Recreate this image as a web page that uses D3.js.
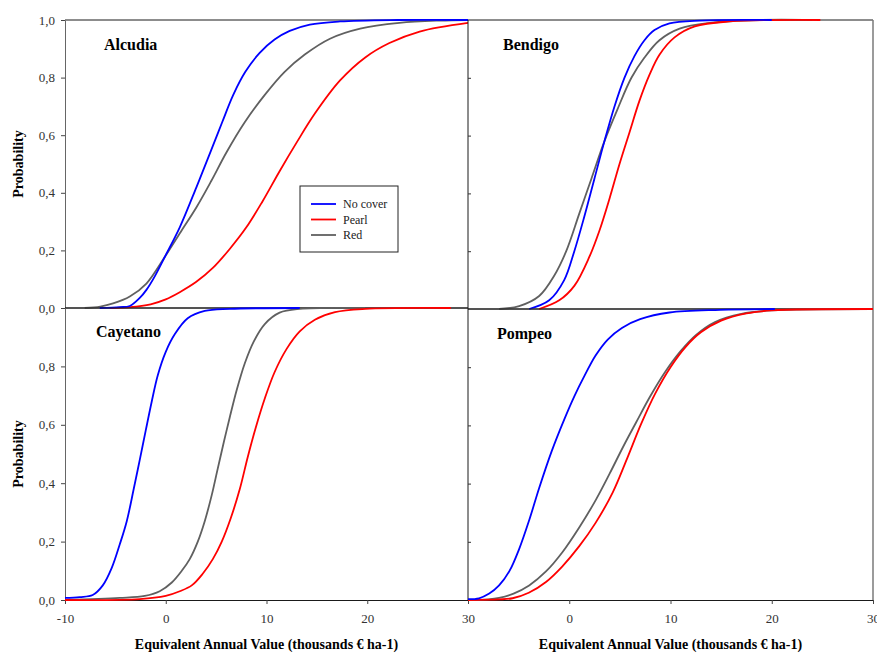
<!DOCTYPE html>
<html>
<head>
    <meta charset="UTF-8">
    <title>Cumulative probability of Equivalent Annual Value</title>
    <script src="https://d3js.org/d3.v7.min.js"></script>
    <style type="text/css">
        body { margin: 0; background: white; }
        text { font-family: "Liberation Serif", "DejaVu Serif", serif; }
    </style>
</head>
<body>
    <svg id="chart"></svg>

    <script>
        const width = 877;
        const height = 653;

        const xTicks = [-10, 0, 10, 20, 30];
        const yTicks = [0, 0.2, 0.4, 0.6, 0.8, 1.0];
        const seriesNames = ["No cover", "Pearl", "Red"];
        const seriesColors = ["#0000ff", "#ff0000", "#606060"];
        const panelNames = ["Alcudia", "Bendigo", "Cayetano", "Pompeo"];

        // [EAV thousands, probability]
        const alcudiaNoCover = [[-6.55,0],[-4.57,0.003],[-3.57,0.007],[-2.58,0.035],[-1.92,0.063],[-1.09,0.11],[-0.1,0.177],[1.39,0.28],[3.05,0.42],[4.53,0.55],[5.6,0.645],[6.7,0.74],[7.9,0.82],[9.3,0.885],[10.8,0.932],[12.3,0.962],[14.3,0.984],[17.3,0.995],[23,1],[30,1]];
        const alcudiaPearl = [[-5.56,0],[-3.57,0.003],[-1.5,0.013],[0,0.03],[1.39,0.055],[3,0.09],[4.7,0.14],[6.35,0.205],[8,0.28],[9.6,0.37],[11.3,0.475],[13,0.575],[14.8,0.675],[17.3,0.79],[19.8,0.87],[22.2,0.92],[25.2,0.96],[30,0.99]];
        const alcudiaRed = [[-8.04,0],[-6.5,0.005],[-5.23,0.016],[-3.57,0.04],[-1.92,0.085],[-0.1,0.177],[1.5,0.265],[3.05,0.35],[4.5,0.44],[6.02,0.54],[7.84,0.645],[9.83,0.74],[11.8,0.82],[13.8,0.88],[16.3,0.935],[19.3,0.97],[23.2,0.99],[27.2,0.998],[30,1]];

        const bendigoNoCover = [[-3.96,0],[-1.98,0.03],[-0.5,0.1],[0.5,0.2],[1.49,0.32],[2.48,0.45],[3.47,0.58],[4.46,0.7],[5.45,0.8],[6.44,0.875],[7.43,0.93],[8.42,0.965],[9.9,0.988],[12.9,0.998],[20,1]];
        const bendigoPearl = [[-2.97,0],[-0.99,0.03],[0.5,0.08],[1.98,0.18],[2.97,0.27],[3.96,0.38],[4.95,0.5],[5.94,0.61],[6.93,0.72],[7.92,0.81],[8.91,0.88],[10.4,0.94],[12.4,0.978],[15.8,0.995],[24.8,1]];
        const bendigoRed = [[-6.93,0],[-4.95,0.01],[-2.97,0.045],[-1.49,0.115],[-0.3,0.2],[0.99,0.33],[2.18,0.45],[3.47,0.58],[4.75,0.69],[6.14,0.8],[7.43,0.87],[8.91,0.93],[10.9,0.97],[13.9,0.99],[18.8,1],[24,1]];

        const cayetanoNoCover = [[-10,0.007],[-8.54,0.01],[-7.25,0.017],[-6.25,0.05],[-5.36,0.11],[-4.57,0.19],[-3.87,0.27],[-3.18,0.38],[-2.58,0.48],[-1.99,0.58],[-1.39,0.68],[-0.79,0.77],[0,0.85],[0.89,0.91],[2.18,0.965],[3.87,0.99],[6.35,0.997],[13.3,1]];
        const cayetanoPearl = [[-10,0],[-2.58,0.003],[0,0.014],[1.39,0.03],[2.58,0.05],[3.67,0.09],[4.67,0.14],[5.56,0.2],[6.45,0.28],[7.35,0.38],[8.14,0.49],[8.93,0.59],[9.83,0.69],[10.8,0.78],[12,0.86],[13.3,0.92],[14.8,0.96],[16.8,0.986],[19.8,0.997],[28.3,1]];
        const cayetanoRed = [[-10,0],[-4.57,0.007],[-2.08,0.014],[-0.6,0.03],[0.6,0.06],[1.59,0.1],[2.38,0.14],[3.18,0.2],[3.87,0.27],[4.57,0.36],[5.16,0.45],[5.76,0.54],[6.35,0.625],[7.05,0.72],[7.84,0.81],[8.73,0.885],[9.83,0.945],[11.3,0.984],[13.3,0.997],[19.8,1]];

        const pompeoNoCover = [[-10,0.003],[-8.91,0.006],[-7.9,0.022],[-6.93,0.05],[-5.9,0.1],[-4.95,0.175],[-3.95,0.275],[-2.97,0.385],[-1.75,0.51],[-0.5,0.62],[0.5,0.7],[1.5,0.77],[2.6,0.84],[3.8,0.895],[5.2,0.935],[7,0.965],[9.9,0.988],[14.9,0.997],[20.3,1]];
        const pompeoPearl = [[-10,0],[-6.93,0.002],[-5.6,0.006],[-4,0.025],[-2.3,0.062],[-0.7,0.115],[0.99,0.185],[2.6,0.265],[4.3,0.37],[5.7,0.485],[7.1,0.605],[8.5,0.71],[10,0.8],[11.5,0.87],[13,0.92],[15,0.96],[17.5,0.985],[20,0.995],[30,1]];
        const pompeoRed = [[-10,0],[-8,0.002],[-6.93,0.007],[-5.5,0.022],[-3.96,0.05],[-2.3,0.098],[-0.66,0.165],[1,0.25],[2.64,0.345],[4,0.435],[5.3,0.525],[6.6,0.61],[8,0.7],[9.5,0.785],[11,0.855],[12.5,0.91],[14.4,0.955],[17,0.983],[20,0.995],[30,1]];

        const panelSeries = [
            [alcudiaNoCover, alcudiaPearl, alcudiaRed],
            [bendigoNoCover, bendigoPearl, bendigoRed],
            [cayetanoNoCover, cayetanoPearl, cayetanoRed],
            [pompeoNoCover, pompeoPearl, pompeoRed]
        ];

        // panel boxes in pixels
        const boxes = [
            { left: 65,  right: 468, top: 20,  bottom: 308, title: [104, 50] },
            { left: 468, right: 873, top: 20,  bottom: 309, title: [503, 50] },
            { left: 65,  right: 468, top: 308, bottom: 600, title: [96, 337] },
            { left: 468, right: 873, top: 309, bottom: 600, title: [497, 339] }
        ];

        const fmt = d => d3.format(".1f")(d).replace(".", ",");

        const svg = d3.select("#chart")
            .attr("width", width)
            .attr("height", height);

        boxes.forEach((b, i) => {
            const x = d3.scaleLinear().domain([-10, 30]).range([b.left, b.right]);
            const y = d3.scaleLinear().domain([0, 1]).range([b.bottom, b.top]);
            const isLeft = i % 2 === 0;
            const isBottom = i >= 2;
            const g = svg.append("g");

            // frame
            g.append("line").attr("x1", b.left).attr("x2", b.right).attr("y1", b.top).attr("y2", b.top)
                .attr("stroke", "#1a1a1a");
            if (!isLeft) {
                g.append("line").attr("x1", b.left).attr("x2", b.left).attr("y1", b.top).attr("y2", b.bottom)
                    .attr("stroke", "#1a1a1a");
                g.append("line").attr("x1", b.right).attr("x2", b.right).attr("y1", b.top).attr("y2", b.bottom)
                    .attr("stroke", "#7a7a7a").attr("stroke-width", 1.5);
            }

            // y axis
            if (isLeft) {
                const yAxis = d3.axisLeft(y)
                    .tickValues(isBottom ? yTicks.slice(0, 5) : yTicks)
                    .tickSizeInner(4).tickSizeOuter(0).tickPadding(6)
                    .tickFormat(fmt);
                const ya = g.append("g").attr("transform", `translate(${b.left},0)`).call(yAxis);
                ya.select(".domain").attr("stroke", "#666");
                ya.selectAll(".tick line").attr("stroke", "#444");
                ya.selectAll("text").attr("fill", "#333").style("font-size", "13px");

                svg.append("text")
                    .attr("transform", `translate(23,${(b.top + b.bottom) / 2}) rotate(-90)`)
                    .attr("text-anchor", "middle")
                    .style("font-size", "14px").style("font-weight", "bold")
                    .text("Probability");
            } else {
                const ya = g.append("g").attr("transform", `translate(${b.left},0)`)
                    .call(d3.axisLeft(y).tickValues(yTicks.slice(1, 5)).tickSizeInner(-3).tickSizeOuter(0).tickFormat(""));
                ya.select(".domain").remove();
                ya.selectAll(".tick line").attr("stroke", "#333");
            }

            // x axis
            if (isBottom) {
                const xAxis = d3.axisBottom(x)
                    .tickValues(xTicks)
                    .tickSizeInner(4).tickSizeOuter(0)
                    .tickFormat(d => (!isLeft && d === -10) ? "" : d);
                const xa = g.append("g").attr("transform", `translate(0,${b.bottom})`).call(xAxis);
                xa.select(".domain").attr("stroke", "#1a1a1a");
                xa.selectAll(".tick line").attr("stroke", "#444");
                xa.selectAll("text").attr("fill", "#333").attr("y", 10).attr("dy", "1em").style("font-size", "13px");

                svg.append("text")
                    .attr("x", (b.left + b.right) / 2)
                    .attr("y", 649)
                    .attr("text-anchor", "middle")
                    .style("font-size", "14px").style("font-weight", "bold")
                    .text("Equivalent Annual Value (thousands € ha-1)");
            } else {
                g.append("line").attr("x1", b.left).attr("x2", b.right).attr("y1", b.bottom).attr("y2", b.bottom)
                    .attr("stroke", "#1a1a1a");
            }

            // curves
            const line = d3.line()
                .x(d => x(d[0]))
                .y(d => y(d[1]))
                .curve(d3.curveCatmullRom.alpha(0.5));
            [2, 1, 0].forEach(k => {
                g.append("path")
                    .datum(panelSeries[i][k])
                    .attr("d", line)
                    .attr("fill", "none")
                    .attr("stroke", seriesColors[k])
                    .attr("stroke-width", 1.8);
            });

            g.append("text")
                .attr("x", b.title[0]).attr("y", b.title[1])
                .style("font-size", "16px").style("font-weight", "bold")
                .text(panelNames[i]);
        });

        // legend
        const legend = svg.append("g").attr("transform", "translate(300,186)");
        legend.append("rect")
            .attr("width", 98).attr("height", 66)
            .attr("fill", "white").attr("stroke", "#222");
        seriesNames.forEach((name, k) => {
            const yy = 18 + k * 15.5;
            legend.append("line")
                .attr("x1", 11).attr("x2", 36).attr("y1", yy).attr("y2", yy)
                .attr("stroke", seriesColors[k]).attr("stroke-width", 1.8);
            legend.append("text")
                .attr("x", 43).attr("y", yy + 4)
                .style("font-size", "12px").attr("fill", "#222")
                .text(name);
        });
    </script>
</body>
</html>
